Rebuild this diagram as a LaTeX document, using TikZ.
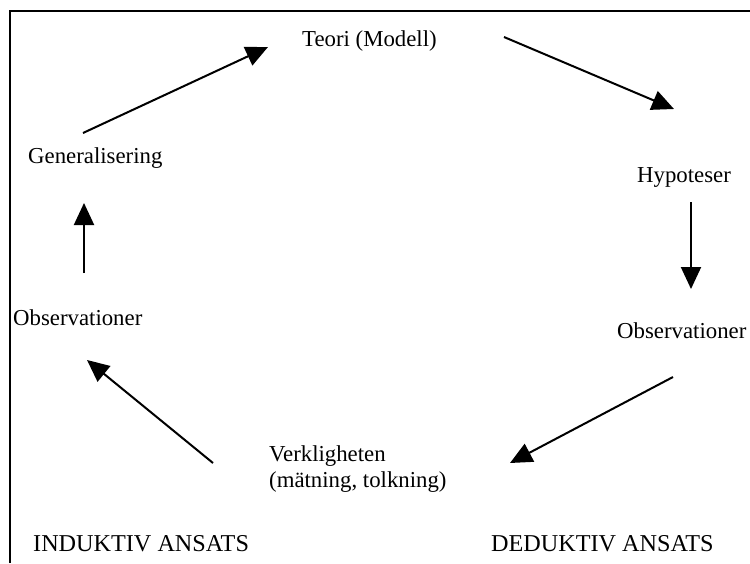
\documentclass[tikz,border=0pt]{standalone}
\usepackage{fontspec}
\setmainfont{Liberation Serif}
\usetikzlibrary{arrows.meta}
\begin{document}
\begin{tikzpicture}[x=1pt,y=-1pt,
  lbl/.style={inner sep=0pt, anchor=base west, font=\fontsize{22.8}{26}\selectfont},
  biglbl/.style={inner sep=0pt, anchor=base west, font=\fontsize{24.2}{28}\selectfont},
  arr/.style={line width=2pt, -{Triangle[length=22pt,width=20pt]}},
  framel/.style={line width=2pt}]
\useasboundingbox (0,0) rectangle (750,563);
% frame
\coordinate (fl) at (10,563);
\coordinate (fc) at (10,11);
\coordinate (fr) at (750,11);
\draw[framel] (fl) -- (fc) -- (fr);
% labels
\node[lbl] (teori) at (302,46) {Teori (Modell)};
\node[lbl] (gen) at (28,163) {Generalisering};
\node[lbl] (hyp) at (637,182) {Hypoteser};
\node[lbl] (obsr) at (617,338) {Observationer};
\node[lbl] (obsl) at (13,325) {Observationer};
\node[lbl] (verk) at (269,461) {Verkligheten};
\node[lbl] (matn) at (269,487) {(mätning, tolkning)};
\node[biglbl] (ind) at (33,551) {INDUKTIV ANSATS};
\node[biglbl] (ded) at (491,551) {DEDUKTIV ANSATS};
% arrow ends
\coordinate (g1) at (83,133);  \coordinate (t1) at (268,47);
\coordinate (t2) at (504,37);  \coordinate (h1) at (674,109);
\coordinate (h2) at (691,202); \coordinate (o1) at (691,289);
\coordinate (o2) at (673,377); \coordinate (v1) at (510,463);
\coordinate (v2) at (213,463); \coordinate (l1) at (87,360);
\coordinate (l2) at (84,273);  \coordinate (g2) at (84,203);
\draw[arr] (g1) -- (t1);
\draw[arr] (t2) -- (h1);
\draw[arr] (h2) -- (o1);
\draw[arr] (o2) -- (v1);
\draw[arr] (v2) -- (l1);
\draw[arr] (l2) -- (g2);
\end{tikzpicture}
\end{document}
